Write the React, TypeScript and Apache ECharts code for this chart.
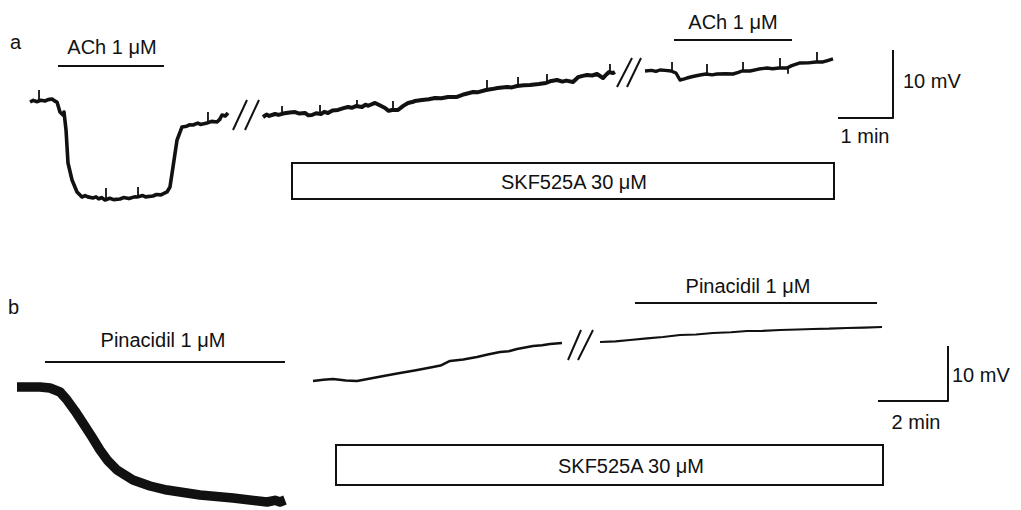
import React, { useEffect, useRef } from "react";
import * as echarts from "echarts";

// ---- Panel a (time in min, membrane potential change in mV) ----
const traceA1: [number, number][] = [
  [0, -0.15], [0.06, 0.1], [0.12, -0.1], [0.2, 0.1], [0.273, 0], [0.33, 0.2], [0.4, 0.29], [0.45, 0], [0.491, -0.15],
  [0.545, -1.62], [0.6, -2.06], [0.618, -1.62], [0.655, -4.26], [0.691, -9.12], [0.764, -11.62],
  [0.855, -13.38], [0.945, -14.12], [1.0, -13.9], [1.05, -14.1], [1.145, -14.26], [1.2, -14.1], [1.25, -14.4],
  [1.3, -14.2], [1.364, -14.56], [1.45, -14.3], [1.52, -14.5], [1.636, -14.41], [1.7, -14.2], [1.8, -14.35],
  [1.9, -14.1], [1.945, -14.12], [2.05, -13.9], [2.1, -14.1], [2.236, -13.97], [2.3, -13.75], [2.38, -13.8],
  [2.491, -13.38], [2.545, -12.65], [2.6, -9.71], [2.673, -5.74], [2.764, -3.82], [2.85, -3.7], [2.9, -3.5],
  [2.964, -3.53], [3.05, -3.25], [3.1, -3.45], [3.218, -3.24], [3.3, -3.0], [3.4, -3.09], [3.45, -2.7],
  [3.491, -2.06], [3.55, -2.2], [3.6, -1.76]
];
const traceA2: [number, number][] = [
  [4.236, -2.35], [4.3, -2.0], [4.35, -2.2], [4.455, -1.91], [4.52, -2.05], [4.6, -1.85], [4.72, -1.7],
  [4.818, -1.62], [4.9, -1.85], [5.0, -1.76], [5.06, -2.1], [5.127, -2.06], [5.2, -1.8], [5.291, -1.91],
  [5.35, -1.6], [5.418, -1.76], [5.5, -1.4], [5.6, -1.32], [5.7, -1.05], [5.782, -0.88], [5.85, -1.0],
  [5.927, -0.74], [6.036, -0.88], [6.1, -0.55], [6.15, -0.7], [6.273, -0.29], [6.35, -0.6], [6.455, -1.03],
  [6.52, -1.45], [6.582, -1.32], [6.691, -1.32], [6.78, -0.75], [6.873, -0.29], [6.95, -0.15], [7.0, 0.0],
  [7.127, 0.15], [7.25, 0.25], [7.364, 0.44], [7.48, 0.4], [7.6, 0.59], [7.764, 0.59], [7.9, 1.0],
  [8.055, 1.32], [8.15, 1.3], [8.291, 1.62], [8.4, 1.75], [8.5, 1.9], [8.673, 2.06], [8.76, 2.0],
  [8.855, 2.21], [8.98, 2.3], [9.091, 2.35], [9.25, 2.5], [9.382, 2.65], [9.48, 2.95], [9.582, 3.09],
  [9.68, 2.85], [9.75, 3.0], [9.873, 2.79], [9.964, 3.5], [10.05, 3.7], [10.127, 3.82], [10.22, 3.75],
  [10.309, 3.97], [10.418, 3.38], [10.48, 3.9], [10.527, 4.26], [10.6, 4.1], [10.636, 4.26]
];
const traceA3: [number, number][] = [
  [11.182, 4.41], [11.3, 4.5], [11.38, 4.35], [11.455, 4.56], [11.55, 4.5], [11.655, 4.41], [11.745, 4.12],
  [11.818, 3.09], [11.9, 3.25], [11.945, 3.38], [12.05, 3.6], [12.182, 3.82], [12.291, 3.97], [12.4, 3.85],
  [12.491, 3.97], [12.65, 4.0], [12.782, 3.97], [12.88, 4.2], [12.945, 4.41], [13.091, 4.41], [13.25, 4.7],
  [13.4, 4.85], [13.5, 4.75], [13.618, 4.85], [13.764, 4.85], [13.85, 5.2], [14.0, 5.59], [14.15, 5.6],
  [14.291, 5.74], [14.418, 5.74], [14.5, 5.95], [14.6, 6.18]
];
// spikes: [time, base, tip]
const spikesA: [number, number, number][] = [
  [0.164, 0, 1.62], [1.382, -14.56, -12.79], [1.964, -14.12, -12.65], [3.236, -3.24, -1.62],
  [4.582, -1.91, -0.74], [5.273, -1.91, -0.59], [5.945, -0.74, 0.15], [6.6, -1.32, 0],
  [8.309, 1.62, 3.09], [8.873, 2.21, 3.53], [9.4, 2.65, 3.97], [10.545, 4.26, 5.44],
  [11.673, 4.41, 5.74], [12.309, 3.97, 5.44], [12.964, 4.41, 5.74], [13.636, 4.85, 6.32],
  [13.782, 4.85, 4.0], [14.309, 5.74, 7.21]
];
const achBarA1: [number, number][] = [[0.509, 5.15], [2.436, 5.15]];
const achBarA2: [number, number][] = [[11.709, 8.97], [13.855, 8.97]];
const scaleA: [number, number][] = [[14.691, -2.5], [15.691, -2.5], [15.691, 7.5]];

// ---- Panel b ----
const traceB1: [number, number][] = [
  [0, 0], [0.657, 0], [0.943, -0.18], [1.229, -0.91], [1.429, -2.36], [1.657, -4.36], [1.886, -6.55],
  [2.143, -9.09], [2.371, -11.45], [2.6, -13.45], [2.857, -15.09], [3.314, -16.91], [3.8, -18.0],
  [4.286, -18.73], [5.229, -19.64], [6.171, -20.18], [7.143, -20.91], [7.371, -20.6], [7.514, -20.9], [7.657, -20.55]
];
const traceB2: [number, number][] = [
  [8.457, 1.09], [8.75, 1.3], [9.029, 1.45], [9.4, 1.2], [9.714, 1.09], [10.171, 1.64], [10.55, 2.1],
  [10.943, 2.55], [11.4, 3.05], [11.886, 3.64], [12.1, 3.9], [12.371, 4.73], [12.75, 5.0], [13.143, 5.45],
  [13.45, 5.9], [13.8, 6.36], [14.05, 6.5], [14.286, 6.91], [14.743, 7.45], [15.0, 7.6], [15.229, 7.82], [15.571, 8.0]
];
const traceB3: [number, number][] = [
  [16.657, 8.18], [17.1, 8.3], [17.514, 8.55], [18.0, 8.85], [18.457, 9.09], [18.943, 9.45], [19.4, 9.55],
  [19.886, 9.82], [20.4, 9.95], [20.857, 10.18], [21.3, 10.2], [21.8, 10.36], [22.3, 10.45], [22.743, 10.55],
  [23.2, 10.6], [23.714, 10.73], [24.2, 10.8], [24.714, 10.91]
];
const pinBarB1: [number, number][] = [[0.8, 4.55], [7.657, 4.55]];
const pinBarB2: [number, number][] = [[17.657, 15.27], [24.571, 15.27]];
const scaleB: [number, number][] = [[24.6, -2.55], [26.6, -2.55], [26.6, 7.45]];

const INK = "#111";
const FONT = "Liberation Sans, Arial, sans-serif";

function lineSeries(data: ([number, number] | null)[], idx: number, width: number) {
  return {
    type: "line",
    xAxisIndex: idx,
    yAxisIndex: idx,
    data,
    showSymbol: false,
    symbol: "none",
    silent: true,
    connectNulls: false,
    lineStyle: { color: INK, width, join: "round", cap: "butt" },
  };
}

function spikeData(sp: [number, number, number][]) {
  const out: ([number, number] | null)[] = [];
  sp.forEach(([t, b, tip]) => {
    out.push([t, b], [t, tip], null);
  });
  return out;
}

function txt(text: string, x: number, y: number, align = "center") {
  return {
    type: "text",
    style: { text, x, y, fill: INK, fontSize: 20, fontFamily: FONT, align, verticalAlign: "middle" },
  };
}

function brk(x1: number, y1: number, x2: number, y2: number) {
  return { type: "line", shape: { x1, y1, x2, y2 }, style: { stroke: INK, lineWidth: 2 } };
}

export default function App() {
  const ref = useRef<HTMLDivElement>(null);
  useEffect(() => {
    if (!ref.current) return;
    const chart = echarts.init(ref.current, undefined, { renderer: "svg" });
    chart.setOption({
      animation: false,
      backgroundColor: "#fff",
      grid: [
        { left: 0, top: 0, width: 1021, height: 255 },
        { left: 0, top: 255, width: 1021, height: 255 },
      ],
      xAxis: [
        { type: "value", gridIndex: 0, min: -30 / 55, max: 991 / 55, show: false },
        { type: "value", gridIndex: 1, min: -17 / 35, max: 1004 / 35, show: false },
      ],
      yAxis: [
        { type: "value", gridIndex: 0, min: -154 / 6.8, max: 101 / 6.8, show: false },
        { type: "value", gridIndex: 1, min: -123 / 5.5, max: 132 / 5.5, show: false },
      ],
      series: [
        lineSeries(traceA1, 0, 3.6),
        lineSeries(traceA2, 0, 4),
        lineSeries(traceA3, 0, 3.4),
        lineSeries(spikeData(spikesA), 0, 1.8),
        lineSeries(achBarA1, 0, 2),
        lineSeries(achBarA2, 0, 2),
        lineSeries(scaleA, 0, 2),
        lineSeries(traceB1, 1, 9.5),
        lineSeries(traceB2, 1, 2.5),
        lineSeries(traceB3, 1, 2.2),
        lineSeries(pinBarB1, 1, 2),
        lineSeries(pinBarB2, 1, 2),
        lineSeries(scaleB, 1, 2),
      ],
      graphic: [
        brk(233, 130, 247, 100),
        brk(245, 130, 259, 100),
        brk(617, 87, 632, 58),
        brk(627, 87, 641, 58),
        brk(568, 360, 581, 330),
        brk(578, 360, 593, 330),
        {
          type: "rect",
          shape: { x: 292, y: 163, width: 542, height: 36 },
          style: { fill: "none", stroke: INK, lineWidth: 2 },
        },
        {
          type: "rect",
          shape: { x: 336, y: 445, width: 547, height: 40 },
          style: { fill: "none", stroke: INK, lineWidth: 2 },
        },
        txt("a", 10, 42, "left"),
        txt("b", 8, 307, "left"),
        txt("ACh 1 μM", 112, 47),
        txt("ACh 1 μM", 733, 22),
        txt("10 mV", 903, 81, "left"),
        txt("1 min", 865, 136),
        txt("SKF525A 30 μM", 574, 182),
        txt("Pinacidil 1 μM", 163, 340),
        txt("Pinacidil 1 μM", 748, 286),
        txt("10 mV", 952, 375, "left"),
        txt("2 min", 916, 422),
        txt("SKF525A 30 μM", 631, 466),
      ],
    });
    return () => chart.dispose();
  }, []);
  return (
    <div
      ref={ref}
      style={{ position: "absolute", left: 0, top: 0, width: 1021, height: 510 }}
    />
  );
}
